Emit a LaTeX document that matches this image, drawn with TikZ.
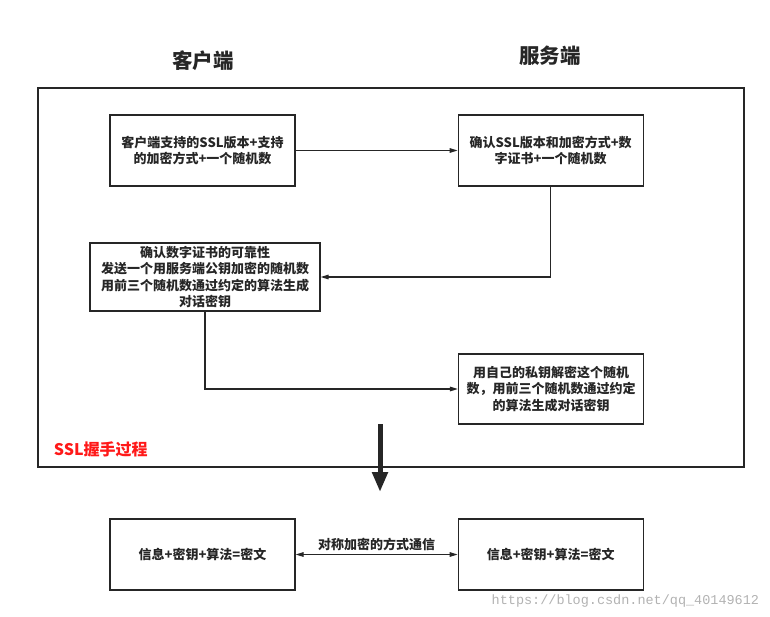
\documentclass[tikz,border=0pt]{standalone}
\usepackage{fontspec}
\setmainfont{Noto Sans CJK SC}
\newfontfamily\markfont{Liberation Mono}
\usetikzlibrary{
arrows.meta,
positioning
}

\begin{document}
\begin{tikzpicture}[
    x=1pt, y=-1pt,
    line width=1.2pt,
    color=black!85,
    >={Triangle[angle=45:6pt,length=8pt]},
    box/.style={draw,
      fill=white,
      font=\bfseries\fontsize{13}{16.5}\selectfont,
      align=center,
      inner sep=2pt,
      minimum width=185pt,
      minimum height=71pt},
    side/.style={font=\bfseries\fontsize{20.5}{24}\selectfont},
    rel/.style={midway, above, font=\bfseries\fontsize{13}{15}\selectfont}
  ]
  \useasboundingbox (0,0) rectangle (770,616);
  \node[draw, line width=1.4pt, minimum width=706pt, minimum height=379pt] (hand) at (391,277.5) {};
  \node[side] (client) at (203,61) {客户端};
  \node[side] (server) at (550,56) {服务端};

  \node[box] (hello) at (202.5,150.5) {客户端支持的SSL版本+支持\\的加密方式+一个随机数};
  \node[box, right=162pt of hello] (cert) {确认SSL版本和加密方式+数\\字证书+一个随机数};
  \node[box, minimum width=230pt, minimum height=68pt] (keyx) at (205,277) {确认数字证书的可靠性\\发送一个用服务端公钥加密的随机数\\用前三个随机数通过约定的算法生成\\对话密钥};
  \node[box, minimum height=70pt] (decr) at (551,389) {用自己的私钥解密这个随机\\数，用前三个随机数通过约定\\的算法生成对话密钥};
  \node[font=\bfseries\fontsize{16}{18}\selectfont, text=red!90!white, anchor=west] (hname) at (50,449) {SSL握手过程};

  \node[box] (encl) at (202.5,554.5) {信息+密钥+算法=密文};
  \node[box, right=162pt of encl] (encr) {信息+密钥+算法=密文};

  \draw[->] (hello) -- (cert);
  \draw[->] (cert.south) |- (keyx.east);
  \draw[->] (keyx.south) |- (decr.west);
  \coordinate (hs) at (380,424);
  \coordinate (he) at (380,492);
  \draw[line width=5pt, -{Triangle[length=20pt,width=15pt]}] (hs) -- (he);
  \draw[<->] (encl) -- node[rel] {对称加密的方式通信} (encr);

  \node[font=\markfont\fontsize{13.5}{15}\selectfont, text=black!30, anchor=east] (mark) at (763,601) {https://blog.csdn.net/qq\_40149612};
\end{tikzpicture}
\end{document}
